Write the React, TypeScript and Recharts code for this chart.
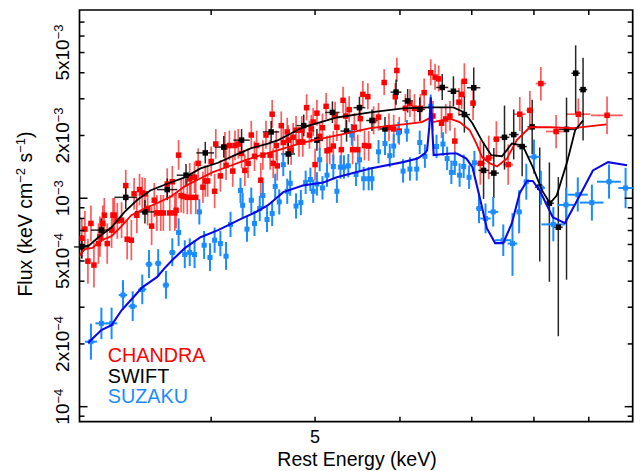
import React from 'react';
import { ComposedChart, Scatter, XAxis, YAxis, ErrorBar, ReferenceArea } from 'recharts';

// ---- axes ----
const X_MIN = 3.015;
const X_MAX = 9.89;
const Y_MIN = 8.47e-5;
const Y_MAX = 8.0e-3;
const UNIT = 1e-3; // fluxes below are in units of 1e-3 keV cm^-2 s^-1

const X_TICKS = [4, 5, 6, 7, 8, 9];
const X_LABELED = [5];
const Y_TICKS = [9e-5, 1e-4, 2e-4, 3e-4, 4e-4, 5e-4, 6e-4, 7e-4, 8e-4, 9e-4, 1e-3, 2e-3, 3e-3, 4e-3, 5e-3, 6e-3, 7e-3];
const Y_DECADES = [1e-4, 1e-3];
const Y_LABEL_VALUES = [1e-4, 2e-4, 5e-4, 1e-3, 2e-3, 5e-3];
const Y_LABEL_MANT = ['10', '2x10', '5x10', '10', '2x10', '5x10'];
const Y_LABEL_EXP = ['\u22124', '\u22124', '\u22124', '\u22123', '\u22123', '\u22123'];

// ---- data: [energy keV, flux, dE keV, lower err %, upper err %] ----
type Pt = [number, number, number, number, number];

const CHANDRA: Pt[] = [
  [3.03,0.643,0.015,20,25],[3.05,0.711,0.015,18,22],[3.07,0.499,0.015,22,28],[3.09,0.757,0.015,18,22],
  [3.11,0.478,0.015,22,28],[3.14,0.606,0.015,20,25],[3.15,0.654,0.015,20,25],[3.17,0.757,0.015,18,22],
  [3.18,0.829,0.015,17,21],[3.20,0.606,0.015,20,25],[3.23,0.703,0.015,18,22],[3.24,0.829,0.015,17,21],
  [3.25,0.829,0.015,17,21],[3.27,0.779,0.015,18,22],[3.30,0.785,0.015,18,22],[3.33,1.15,0.015,16,19],
  [3.34,0.636,0.015,20,25],[3.37,0.629,0.015,20,25],[3.39,1.05,0.015,16,19],[3.41,0.829,0.015,18,22],
  [3.43,1.10,0.015,16,19],[3.45,1.06,0.015,16,19],[3.47,1.05,0.015,16,19],[3.49,0.893,0.015,17,21],
  [3.52,0.735,0.015,19,24],[3.54,0.978,0.015,17,21],[3.56,0.850,0.015,18,22],[3.59,0.850,0.015,18,22],
  [3.61,0.850,0.015,18,22],[3.64,1.17,0.015,16,19],[3.66,0.850,0.015,18,22],[3.68,1.20,0.015,16,19],
  [3.70,0.850,0.015,18,22],[3.71,0.876,0.015,18,22],[3.73,1.61,0.015,15,18],[3.75,1.03,0.015,17,21],
  [3.77,1.02,0.015,17,21],[3.80,1.01,0.015,17,21],[3.82,1.24,0.015,16,19],[3.83,1.01,0.015,17,21],
  [3.86,1.26,0.015,16,19],[3.87,1.01,0.015,17,21],[3.89,1.47,0.015,15,18],[3.93,1.13,0.015,16,19],
  [3.95,1.21,0.015,16,19],[3.97,1.21,0.015,16,19],[4.00,1.50,0.015,15,18],[4.03,1.08,0.015,17,21],
  [4.04,1.82,0.015,15,18],[4.08,1.28,0.015,16,19],[4.12,1.76,0.015,15,18],[4.13,1.44,0.015,15,18],
  [4.16,1.79,0.015,15,18],[4.19,1.35,0.015,16,19],[4.21,1.79,0.015,15,18],[4.24,1.82,0.015,15,18],
  [4.27,1.64,0.015,15,18],[4.30,1.36,0.015,16,19],[4.33,1.47,0.015,15,18],[4.36,2.01,0.015,14,17],
  [4.39,1.59,0.015,15,18],[4.41,1.79,0.015,15,18],[4.45,1.22,0.015,17,21],[4.47,1.61,0.015,15,18],
  [4.50,2.01,0.015,14,17],[4.54,1.61,0.015,15,18],[4.56,2.53,0.015,14,17],[4.57,1.47,0.015,15,18],
  [4.60,1.79,0.015,15,18],[4.61,1.43,0.015,15,18],[4.65,2.23,0.015,14,17],[4.67,1.85,0.015,15,18],
  [4.71,2.08,0.015,14,17],[4.72,1.90,0.015,15,18],[4.75,1.70,0.015,15,18],[4.77,1.96,0.015,14,17],
  [4.80,2.12,0.015,14,17],[4.83,1.86,0.015,15,18],[4.86,2.12,0.015,14,17],[4.87,1.86,0.015,15,18],
  [4.91,2.72,0.015,13,16],[4.94,2.01,0.015,14,17],[4.96,2.15,0.015,14,17],[4.98,2.32,0.015,14,17],
  [5.00,1.45,0.015,16,19],[5.02,2.56,0.015,13,16],[5.05,1.98,0.015,14,17],[5.08,2.18,0.015,14,17],
  [5.12,2.76,0.015,13,16],[5.13,1.69,0.015,15,18],[5.16,1.71,0.015,15,18],[5.20,1.78,0.015,15,18],
  [5.22,2.50,0.015,13,16],[5.24,2.19,0.015,14,17],[5.29,1.71,0.015,15,18],[5.31,2.95,0.015,13,16],
  [5.34,2.48,0.015,13,16],[5.38,2.66,0.015,13,16],[5.42,1.71,0.015,15,18],[5.44,2.19,0.015,14,17],
  [5.48,1.71,0.015,15,18],[5.51,2.41,0.015,14,17],[5.54,3.15,0.015,13,16],[5.56,1.79,0.015,15,18],
  [5.60,3.07,0.015,13,16],[5.61,1.78,0.015,15,18],[5.67,2.36,0.015,14,17],[5.73,2.45,0.015,14,17],
  [5.80,3.59,0.015,13,16],[5.86,2.18,0.015,14,17],[5.92,2.15,0.015,14,17],[5.94,3.07,0.015,13,16],
  [5.96,4.10,0.015,12,15],[5.99,2.10,0.015,14,17],[6.07,2.70,0.02,14,17],[6.13,2.85,0.02,14,17],
  [6.19,2.70,0.02,14,17],[6.27,2.70,0.02,14,17],[6.32,3.21,0.02,14,17],[6.41,4.00,0.02,13,16],
  [6.44,2.48,0.02,15,18],[6.47,3.81,0.02,13,16],[6.52,3.74,0.02,13,16],[6.56,2.29,0.02,15,18],
  [6.62,2.40,0.02,15,18],[6.68,2.48,0.02,15,18],[6.75,1.88,0.03,13,16],[6.81,2.89,0.03,14,17],
  [6.85,3.15,0.03,15,18],[6.89,3.64,0.04,17,22],[7.02,2.86,0.04,17,21],[7.13,1.47,0.08,21,29],
  [7.26,1.56,0.08,21,28],[7.38,1.92,0.05,18,22],[7.57,1.45,0.08,20,25],[7.76,2.53,0.10,17,21],
  [7.93,2.64,0.06,19,24],[8.12,3.55,0.09,17,20],[8.39,2.09,0.18,17,20],[8.80,2.53,0.23,15,19],
  [9.36,2.50,0.32,19,23],
];

const SWIFT: Pt[] = [
  [3.03,0.584,0.05,12,14],[3.16,0.703,0.07,12,14],[3.33,1.01,0.08,12,14],[3.47,0.860,0.075,12,14],
  [3.64,1.10,0.08,11,13],[3.79,1.29,0.075,11,13],[3.95,1.65,0.075,11,13],[4.11,1.76,0.08,11,13],
  [4.27,1.90,0.075,11,13],[4.55,2.08,0.08,11,13],[4.72,1.63,0.07,11,13],[4.88,2.23,0.075,11,13],
  [5.02,1.90,0.065,11,13],[5.19,2.58,0.08,11,13],[5.35,2.10,0.07,11,13],[5.50,2.72,0.07,11,13],
  [5.65,2.36,0.07,11,13],[5.81,2.15,0.07,12,14],[5.95,3.23,0.07,13,15],[6.10,2.93,0.07,12,14],
  [6.26,2.67,0.07,12,14],[6.57,3.40,0.085,13,16],[6.73,3.26,0.085,15,18],[6.89,2.52,0.085,18,22],
  [7.03,3.39,0.1,20,25],[7.18,1.36,0.08,27,36],[7.34,1.32,0.08,24,32],[7.51,1.96,0.08,30,42],
  [7.66,2.02,0.08,24,32],[7.80,1.77,0.08,28,39],[7.97,2.20,0.08,26,35],[8.10,1.13,0.08,56,55],
  [8.27,0.946,0.08,58,57],[8.43,0.726,0.08,70,74],[8.58,2.14,0.15,81,42],[8.75,3.98,0.08,36,36],
  [8.89,3.32,0.08,43,42],
];

const SUZAKU: Pt[] = [
  [3.09,0.205,0.04,18,22],[3.16,0.251,0.04,16,19],[3.23,0.251,0.04,16,19],[3.31,0.343,0.03,15,18],
  [3.38,0.303,0.03,15,18],[3.45,0.365,0.03,15,18],[3.50,0.482,0.025,14,17],[3.57,0.487,0.025,14,17],
  [3.63,0.383,0.025,14,17],[3.68,0.549,0.025,14,17],[3.73,0.685,0.02,14,17],[3.78,0.537,0.02,14,17],
  [3.82,0.549,0.02,14,17],[3.86,0.537,0.02,14,17],[3.90,0.860,0.02,13,15],[3.94,0.595,0.02,14,17],
  [3.99,0.520,0.02,14,17],[4.03,0.629,0.02,13,15],[4.08,0.606,0.02,13,15],[4.13,0.527,0.02,14,17],
  [4.17,0.749,0.02,13,15],[4.26,1.09,0.02,13,15],[4.28,0.925,0.02,13,15],[4.32,0.711,0.02,13,15],
  [4.36,0.978,0.02,13,15],[4.39,0.757,0.02,13,15],[4.44,0.893,0.02,13,15],[4.47,1.03,0.02,13,15],
  [4.51,0.791,0.02,13,15],[4.56,0.845,0.02,13,15],[4.59,1.14,0.02,13,15],[4.63,0.960,0.02,13,15],
  [4.67,1.45,0.02,12,14],[4.71,1.08,0.02,13,15],[4.74,1.18,0.02,13,15],[4.80,0.918,0.02,13,15],
  [4.85,0.953,0.02,13,15],[4.90,1.19,0.02,12,14],[4.95,1.23,0.02,12,14],[4.98,1.08,0.02,12,14],
  [5.02,1.17,0.02,12,14],[5.05,1.53,0.02,12,14],[5.08,1.12,0.02,12,14],[5.13,1.29,0.02,12,14],
  [5.20,1.42,0.02,12,14],[5.24,1.08,0.02,12,14],[5.28,1.41,0.02,12,14],[5.32,1.41,0.02,12,14],
  [5.37,1.43,0.02,12,14],[5.41,2.01,0.02,11,13],[5.46,1.30,0.02,12,14],[5.50,1.53,0.02,12,14],
  [5.55,1.24,0.02,12,14],[5.61,1.24,0.02,12,14],[5.65,1.24,0.02,12,14],[5.73,1.67,0.02,12,14],
  [5.81,1.83,0.02,12,14],[5.87,1.60,0.02,12,14],[5.92,1.78,0.02,12,14],[5.98,2.06,0.02,11,13],
  [6.04,1.35,0.02,12,14],[6.09,2.10,0.02,11,13],[6.13,1.38,0.02,12,14],[6.22,1.38,0.02,12,14],
  [6.26,1.85,0.02,12,14],[6.33,1.59,0.02,12,14],[6.41,2.76,0.02,12,14],[6.49,1.77,0.02,12,14],
  [6.58,1.82,0.02,12,14],[6.64,1.55,0.02,12,14],[6.70,1.33,0.02,12,14],[6.75,1.47,0.02,12,14],
  [6.82,1.29,0.02,12,14],[6.88,1.42,0.02,12,14],[6.96,1.26,0.02,12,14],[7.04,1.48,0.02,12,14],
  [7.11,0.893,0.045,15,18],[7.21,0.799,0.08,15,18],[7.33,0.860,0.08,15,18],[7.49,0.629,0.13,16,19],
  [7.64,0.606,0.08,30,40],[7.75,0.860,0.045,21,27],[7.87,1.20,0.045,18,22],[8.00,1.58,0.1,17,21],
  [8.12,1.12,0.07,17,21],[8.34,0.749,0.21,17,21],[8.57,0.929,0.15,17,21],[8.79,1.04,0.19,17,21],
  [9.06,0.953,0.23,18,22],[9.40,1.20,0.24,17,21],[9.74,1.12,0.15,20,25],
];

// ---- models: [energy keV, flux] ----
const CHANDRA_MODEL: [number, number][] = [
  [3.00,0.516],[3.05,0.570],[3.10,0.577],[3.16,0.629],[3.23,0.658],[3.30,0.735],[3.37,0.829],
  [3.47,0.895],[3.56,0.946],[3.67,1.02],[3.78,1.14],[3.89,1.23],[4.01,1.33],[4.15,1.42],
  [4.30,1.52],[4.45,1.61],[4.62,1.70],[4.87,1.85],[5.24,2.00],[5.63,2.17],[6.04,2.26],
  [6.29,2.32],[6.38,2.41],[6.44,2.32],[6.54,2.36],[6.68,2.41],[6.82,2.32],[6.97,2.12],
  [7.07,1.83],[7.16,1.57],[7.28,1.47],[7.39,1.42],[7.55,1.55],[7.71,1.90],[7.93,2.19],
  [8.28,2.19],[8.70,2.17],[9.35,2.26],
];

const SWIFT_MODEL: [number, number][] = [
  [3.00,0.576],[3.08,0.595],[3.14,0.650],[3.23,0.726],[3.32,0.857],[3.41,0.978],[3.51,1.09],
  [3.65,1.18],[3.78,1.26],[3.91,1.39],[4.06,1.48],[4.21,1.61],[4.36,1.74],[4.52,1.83],
  [4.62,1.90],[4.87,2.19],[5.24,2.44],[5.63,2.58],[6.04,2.70],[6.39,2.73],[6.73,2.73],
  [6.89,2.58],[7.01,2.29],[7.15,1.90],[7.30,1.61],[7.47,1.59],[7.63,1.83],[7.81,1.79],
  [7.98,1.41],[8.14,1.09],[8.28,0.946],[8.40,1.03],[8.59,1.49],[8.74,2.12],[8.89,2.36],
];

const SUZAKU_MODEL: [number, number][] = [
  [3.07,0.202],[3.16,0.233],[3.23,0.246],[3.30,0.290],[3.38,0.332],[3.45,0.374],[3.56,0.418],
  [3.62,0.462],[3.68,0.505],[3.78,0.576],[3.91,0.650],[4.06,0.703],[4.15,0.743],[4.26,0.794],
  [4.40,0.857],[4.52,0.926],[4.67,1.07],[4.87,1.15],[5.09,1.19],[5.24,1.26],[5.63,1.39],
  [6.04,1.49],[6.23,1.55],[6.33,1.64],[6.36,1.70],[6.39,2.19],[6.41,3.05],[6.43,2.19],
  [6.45,1.61],[6.68,1.64],[6.78,1.64],[6.92,1.55],[7.01,1.41],[7.12,1.01],[7.23,0.718],
  [7.36,0.609],[7.49,0.609],[7.63,0.759],[7.76,1.06],[7.88,1.21],[7.98,1.21],[8.10,1.09],
  [8.33,0.811],[8.55,0.759],[8.78,0.978],[9.08,1.36],[9.38,1.49],[9.77,1.44],
];

const LEGEND_NAMES = ['CHANDRA', 'SWIFT', 'SUZAKU'];

// ---- styling / layout ----
const RED = '#ff0000';
const BLACK = '#000000';
const SKY = '#1a8cff';
const BLUE = '#0a0ae6';
const LEGEND_COLORS = [RED, BLACK, SKY];
const FONT = '"Liberation Sans", Arial, Helvetica, sans-serif';
const W = 640;
const H = 471;
const PLOT_LEFT = 79.5;
const PLOT_RIGHT = 632.7;
const PLOT_TOP = 10;
const PLOT_BOTTOM = 421.7;

const toRows = (pts: Pt[]) =>
  pts.map(([e, f, de, lo, hi]) => ({
    x: e,
    y: f * UNIT,
    ex: de,
    ey: [(f * UNIT * lo) / 100, (f * UNIT * hi) / 100],
  }));
const toLine = (pts: [number, number][]) => pts.map(([e, f]) => ({ x: e, y: f * UNIT }));

const chandraRows = toRows(CHANDRA);
const swiftRows = toRows(SWIFT);
const suzakuRows = toRows(SUZAKU);

const near = (a: number, b: number) => Math.abs(a - b) / b < 1e-6;

const XTick = (props: any) => {
  const { x, y, payload } = props;
  const v = payload.value;
  const lab = X_LABELED.some((t) => near(v, t));
  return (
    <g>
      <line x1={x} x2={x} y1={y} y2={y - 5} stroke={BLACK} strokeWidth={1.5} />
      <line x1={x} x2={x} y1={PLOT_TOP} y2={PLOT_TOP + 5} stroke={BLACK} strokeWidth={1.5} />
      {lab && (
        <text x={x} y={y + 21.6} textAnchor="middle" fontSize={18} fontFamily={FONT} fill={BLACK}>
          {String(v)}
        </text>
      )}
    </g>
  );
};

const YTick = (props: any) => {
  const { x, y, payload } = props;
  const v = payload.value;
  const idx = Y_LABEL_VALUES.findIndex((t) => near(v, t));
  const major = Y_DECADES.some((t) => near(v, t));
  const len = major ? 8 : 5;
  const tx = x - 10.5;
  return (
    <g>
      <line x1={x} x2={x + len} y1={y} y2={y} stroke={BLACK} strokeWidth={1.5} />
      <line x1={PLOT_RIGHT} x2={PLOT_RIGHT - len} y1={y} y2={y} stroke={BLACK} strokeWidth={1.5} />
      {idx >= 0 && (
        <text
          x={tx}
          y={y}
          transform={`rotate(-90 ${tx} ${y})`}
          textAnchor="middle"
          fontSize={19}
          fontFamily={FONT}
          fill={BLACK}
        >
          <tspan>{Y_LABEL_MANT[idx]}</tspan>
          <tspan dy={-6} fontSize={13}>{Y_LABEL_EXP[idx]}</tspan>
        </text>
      )}
    </g>
  );
};

const Titles = () => (
  <g fontFamily={FONT}>
    <text x={357} y={466} textAnchor="middle" fontSize={19.5} fill={BLACK}>
      Rest Energy (keV)
    </text>
    <text x={32} y={214} transform="rotate(-90 32 214)" textAnchor="middle" fontSize={19.5} fill={BLACK}>
      <tspan>Flux (keV cm</tspan>
      <tspan dy={-7} fontSize={13}>{'\u22122'}</tspan>
      <tspan dy={7}> s</tspan>
      <tspan dy={-7} fontSize={13}>{'\u22121'}</tspan>
      <tspan dy={7}>)</tspan>
    </text>
    {LEGEND_NAMES.map((n, i) => (
      <text key={n} x={107.7} y={361.7 + i * 20.8} fontSize={19.8} fill={LEGEND_COLORS[i]}>
        {n}
      </text>
    ))}
  </g>
);

const square = (size: number, color: string) => (p: any) =>
  p.cx == null ? <g /> : <rect x={p.cx - size / 2} y={p.cy - size / 2} width={size} height={size} fill={color} />;
const noShape = () => <g />;

export default function App() {
  return (
    <div style={{ position: 'absolute', left: 0, top: 0, width: W, height: H, background: '#fff' }}>
      <ComposedChart
        width={W}
        height={H}
        margin={{ top: PLOT_TOP, right: W - PLOT_RIGHT, bottom: 0, left: PLOT_LEFT - 70 }}
      >
        <XAxis
          dataKey="x"
          type="number"
          scale="log"
          domain={[X_MIN, X_MAX]}
          allowDataOverflow
          ticks={X_TICKS}
          interval={0}
          tickSize={0}
          tickMargin={0}
          tickLine={false}
          axisLine={false}
          height={H - PLOT_BOTTOM}
          tick={<XTick />}
          label={<Titles />}
        />
        <YAxis
          dataKey="y"
          type="number"
          scale="log"
          domain={[Y_MIN, Y_MAX]}
          allowDataOverflow
          ticks={Y_TICKS}
          interval={0}
          tickSize={0}
          tickMargin={0}
          tickLine={false}
          axisLine={false}
          width={70}
          tick={<YTick />}
        />
        <ReferenceArea
          x1={X_MIN}
          x2={X_MAX}
          y1={Y_MIN}
          y2={Y_MAX}
          fill="none"
          stroke={BLACK}
          strokeWidth={1.7}
          fillOpacity={0}
        />
        <Scatter data={chandraRows} fill={RED} shape={square(5.5, RED)} isAnimationActive={false}>
          <ErrorBar dataKey="ey" direction="y" width={0} stroke={RED} strokeWidth={1.7} strokeOpacity={0.65} />
          <ErrorBar dataKey="ex" direction="x" width={0} stroke={RED} strokeWidth={1.7} strokeOpacity={0.65} />
        </Scatter>
        <Scatter data={swiftRows} fill={BLACK} shape={square(5.5, BLACK)} isAnimationActive={false}>
          <ErrorBar dataKey="ey" direction="y" width={0} stroke={BLACK} strokeWidth={1.5} strokeOpacity={0.85} />
          <ErrorBar dataKey="ex" direction="x" width={0} stroke={BLACK} strokeWidth={1.5} strokeOpacity={0.85} />
        </Scatter>
        <Scatter data={suzakuRows} fill={SKY} shape={square(5, SKY)} isAnimationActive={false}>
          <ErrorBar dataKey="ey" direction="y" width={0} stroke={SKY} strokeWidth={2} />
          <ErrorBar dataKey="ex" direction="x" width={0} stroke={SKY} strokeWidth={2} />
        </Scatter>
        <Scatter
          data={toLine(CHANDRA_MODEL)}
          fill={RED}
          line={{ stroke: RED, strokeWidth: 1.8 }}
          shape={noShape}
          isAnimationActive={false}
        />
        <Scatter
          data={toLine(SWIFT_MODEL)}
          fill={BLACK}
          line={{ stroke: BLACK, strokeWidth: 1.8 }}
          shape={noShape}
          isAnimationActive={false}
        />
        <Scatter
          data={toLine(SUZAKU_MODEL)}
          fill={BLUE}
          line={{ stroke: BLUE, strokeWidth: 2.1 }}
          shape={noShape}
          isAnimationActive={false}
        />
      </ComposedChart>
    </div>
  );
}
